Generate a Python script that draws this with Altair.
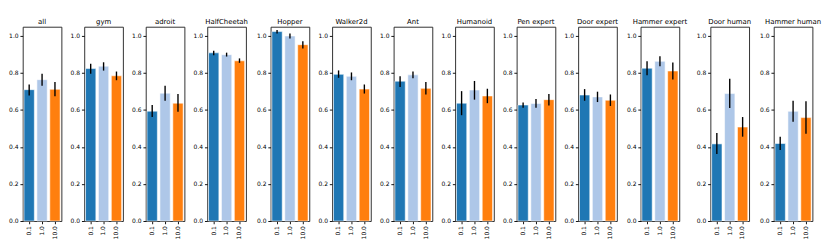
import altair as alt
import pandas as pd

envs = ["all", "gym", "adroit", "HalfCheetah", "Hopper", "Walker2d", "Ant",
        "Humanoid", "Pen expert", "Door expert", "Hammer expert", "Door human", "Hammer human"]
params = ["0.1", "1.0", "10.0"]

mean_01 = [0.710, 0.824, 0.594, 0.909, 1.024, 0.793, 0.756, 0.637, 0.627, 0.681, 0.826, 0.417, 0.419]
lo_01 = [0.679, 0.796, 0.562, 0.896, 1.013, 0.774, 0.725, 0.572, 0.612, 0.650, 0.788, 0.362, 0.384]
hi_01 = [0.738, 0.850, 0.627, 0.920, 1.033, 0.814, 0.783, 0.702, 0.640, 0.713, 0.863, 0.476, 0.456]

mean_1 = [0.764, 0.837, 0.691, 0.899, 1.000, 0.782, 0.790, 0.708, 0.635, 0.671, 0.863, 0.689, 0.593]
lo_1 = [0.731, 0.813, 0.650, 0.889, 0.987, 0.761, 0.772, 0.656, 0.612, 0.643, 0.837, 0.611, 0.537]
hi_1 = [0.796, 0.858, 0.731, 0.910, 1.013, 0.803, 0.808, 0.757, 0.660, 0.699, 0.891, 0.769, 0.650]

mean_10 = [0.712, 0.785, 0.637, 0.866, 0.953, 0.713, 0.717, 0.676, 0.656, 0.653, 0.811, 0.508, 0.559]
lo_10 = [0.674, 0.761, 0.590, 0.855, 0.933, 0.689, 0.684, 0.637, 0.624, 0.622, 0.765, 0.456, 0.472]
hi_10 = [0.751, 0.808, 0.686, 0.879, 0.972, 0.738, 0.751, 0.715, 0.686, 0.684, 0.857, 0.562, 0.647]

colors = ["#1f77b4", "#aec7e8", "#ff7f0e"]

rows = []
for p, m, lo, hi in [(params[0], mean_01, lo_01, hi_01),
                     (params[1], mean_1, lo_1, hi_1),
                     (params[2], mean_10, lo_10, hi_10)]:
    for e, mv, lv, hv in zip(envs, m, lo, hi):
        rows.append({"env": e, "param": p, "mean": mv, "lo": lv, "hi": hv})
df = pd.DataFrame(rows)

FONT = "DejaVu Sans"


def panel(env):
    sub = df[df["env"] == env]
    x = alt.X("param:N", sort=params, title=None,
              scale=alt.Scale(domain=params, paddingInner=0.2, paddingOuter=0.1),
              axis=alt.Axis(labelAngle=-90, labelFontSize=6.5, labelFont=FONT,
                            tickSize=3, domain=False, labelPadding=2, labelColor="#000",
                            tickColor="#000"))
    y = alt.Y("mean:Q", title=None,
              scale=alt.Scale(domain=[0, 1.05], nice=False, zero=True),
              axis=alt.Axis(values=[0, 0.2, 0.4, 0.6, 0.8, 1.0], format=".1f", grid=False,
                            labelFontSize=6.5, labelFont=FONT, tickSize=3, domain=False,
                            labelPadding=2, labelColor="#000", tickColor="#000"))
    bars = alt.Chart(sub).mark_bar(stroke="white", strokeWidth=0.6).encode(
        x=x, y=y,
        color=alt.Color("param:N", sort=params,
                        scale=alt.Scale(domain=params, range=colors), legend=None),
    )
    err = alt.Chart(sub).mark_rule(color="black", strokeWidth=1.5).encode(
        x=alt.X("param:N", sort=params),
        y=alt.Y("lo:Q"),
        y2="hi:Q",
    )
    return alt.layer(bars, err).properties(
        width=42, height=211,
        title=alt.TitleParams(env, fontSize=7.5, font=FONT, fontWeight="normal",
                              offset=2, color="#000"),
    )


chart = alt.hconcat(*[panel(e) for e in envs], spacing=7.8).properties(
    padding={"left": 0, "top": 0, "right": 0, "bottom": 0}
).configure(
    background="white"
).configure_view(stroke="#222", strokeWidth=1)

chart.save("out.html", embed_options={"renderer": "svg", "actions": False})
